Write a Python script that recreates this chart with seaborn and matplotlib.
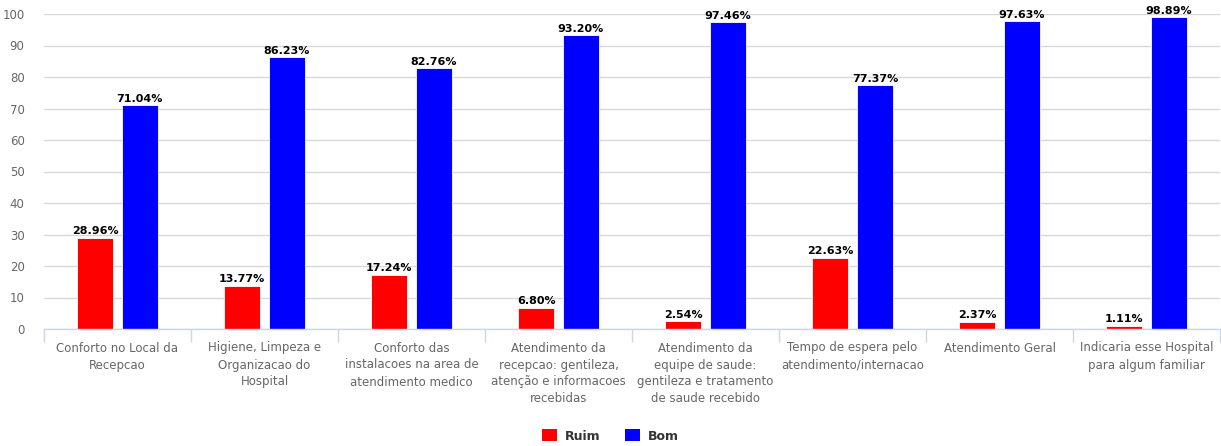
import matplotlib
matplotlib.use("Agg")
import matplotlib.pyplot as plt
import seaborn as sns
import pandas as pd
import numpy as np
from matplotlib.patches import Patch

categories = [
    "Conforto no Local da\nRecepcao",
    "Higiene, Limpeza e\nOrganizacao do\nHospital",
    "Conforto das\ninstalacoes na area de\natendimento medico",
    "Atendimento da\nrecepcao: gentileza,\natenção e informacoes\nrecebidas",
    "Atendimento da\nequipe de saude:\ngentileza e tratamento\nde saude recebido",
    "Tempo de espera pelo\natendimento/internacao",
    "Atendimento Geral",
    "Indicaria esse Hospital\npara algum familiar",
]
ruim = [28.96, 13.77, 17.24, 6.80, 2.54, 22.63, 2.37, 1.11]
bom = [71.04, 86.23, 82.76, 93.20, 97.46, 77.37, 97.63, 98.89]
series = ["Ruim", "Bom"]
colors = {"Ruim": "#ff0000", "Bom": "#0000ff"}

df = pd.DataFrame({
    "cat": categories * 2,
    "serie": ["Ruim"] * len(categories) + ["Bom"] * len(categories),
    "valor": ruim + bom,
})

sns.set_theme(style="white")
plt.rcParams["font.family"] = ["DejaVu Sans"]

fig = plt.figure(figsize=(12.21, 4.46), dpi=100)
ax = fig.add_axes([44 / 1221, 1 - 329 / 446, (1220 - 44) / 1221, (329 - 14) / 446])

sns.barplot(data=df, x="cat", y="valor", hue="serie", palette=colors,
            hue_order=series, order=categories, width=0.61, gap=0.2,
            ax=ax, legend=False, saturation=1, edgecolor="white", linewidth=0.6)

for cont in ax.containers:
    labels = [f"{b.get_height():.2f}%" for b in cont]
    ax.bar_label(cont, labels=labels, padding=1, fontsize=8, fontweight="bold", color="#000000")

ax.set_xlim(-0.5, len(categories) - 0.5)
ax.set_ylim(0, 100)
ax.set_yticks(np.arange(0, 101, 10))
ax.yaxis.grid(True, color="#d8d8d8", linewidth=1)
ax.set_axisbelow(True)
ax.tick_params(axis="y", length=0, labelsize=8.5, labelcolor="#666666", pad=14)
ax.set_xticks(range(len(categories)))
ax.set_xticklabels(categories, linespacing=1.4)
ax.tick_params(axis="x", which="major", length=0, labelsize=8.5, labelcolor="#666666", pad=9)
ax.set_xticks(np.arange(-0.5, len(categories) + 0.5, 1), minor=True)
ax.tick_params(axis="x", which="minor", bottom=True, direction="out", length=9,
               color="#ccd6eb", width=1)
ax.set_xlabel("")
ax.set_ylabel("")
for s in ["left", "right", "top"]:
    ax.spines[s].set_visible(False)
ax.spines["bottom"].set_color("#ccd6eb")
ax.spines["bottom"].set_linewidth(1)

handles = [Patch(facecolor=colors[s], edgecolor="none", label=s) for s in series]
leg = fig.legend(handles=handles, loc="center", bbox_to_anchor=(0.5, 1 - 436 / 446),
                 ncol=2, frameon=False, handlelength=1.2, handleheight=1.1,
                 columnspacing=2.0, handletextpad=0.6,
                 prop={"weight": "bold", "size": 9})
for t in leg.get_texts():
    t.set_color("#333333")

fig.savefig("out.png", dpi=100)
